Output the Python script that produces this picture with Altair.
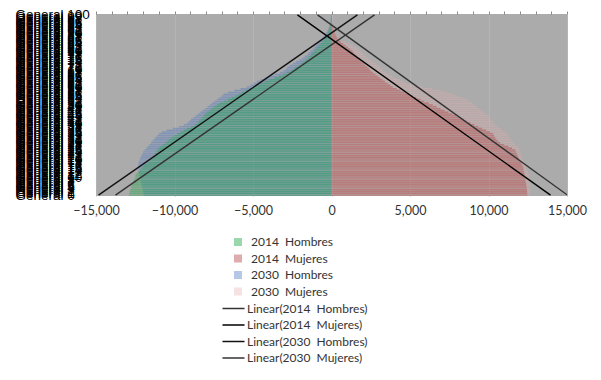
import altair as alt
import pandas as pd

ages = list(range(101))

# 2014 Hombres (absolute values, drawn to the left)
h2014 = [12900, 12880, 12850, 12800, 12780, 12750, 12700, 12650, 12600, 12560,
         12500, 12480, 12400, 12300, 12200, 12100, 12000, 11900, 11700, 11600,
         11500, 11400, 11300, 11250, 11200, 11100, 11000, 10900, 10750, 10600,
         10450, 10300, 10150, 10000, 9800, 9600, 9400, 9200, 8950, 8700,
         8550, 8450, 8340, 8250, 8150, 8050, 7900, 7750, 7650, 7500,
         7300, 7100, 6850, 6600, 6350, 6100, 5900, 5700, 5450, 5200,
         5000, 4750, 4520, 4250, 3950, 3650, 3350, 3100, 2850, 2600,
         2400, 2300, 2100, 1950, 1800, 1650, 1500, 1400, 1300, 1200,
         1100, 1000, 900, 800, 700, 600, 500, 420, 350, 300,
         250, 200, 160, 120, 100, 80, 60, 45, 35, 25, 20]

# 2014 Mujeres
m2014 = [12480, 12470, 12460, 12450, 12430, 12420, 12400, 12380, 12360, 12340,
         12320, 12300, 12280, 12260, 12240, 12220, 12180, 12120, 12060, 12000,
         11950, 11900, 11850, 11800, 11750, 11700, 11500, 11250, 11000, 10750,
         10600, 10500, 10420, 10350, 10300, 10100, 9850, 9600, 9350, 9100,
         8850, 8600, 8400, 8200, 7950, 7700, 7450, 7200, 6950, 6700,
         6450, 6200, 5900, 5670, 5400, 5150, 4900, 4650, 4400, 4150,
         3900, 3750, 3570, 3400, 3250, 3100, 2950, 2800, 2650, 2500,
         2400, 2290, 2150, 2050, 1900, 1800, 1700, 1600, 1500, 1400,
         1340, 1200, 1050, 900, 750, 600, 450, 380, 320, 260,
         210, 170, 130, 100, 80, 60, 45, 35, 25, 20, 15]

# 2030 Hombres
h2030 = [11950, 11980, 12000, 12020, 12050, 12080, 12100, 12120, 12150, 12170,
         12200, 12220, 12250, 12270, 12290, 12300, 12310, 12300, 12290, 12250,
         12200, 12150, 12100, 12050, 12000, 11900, 11800, 11700, 11600, 11500,
         11400, 11300, 11200, 11100, 11000, 10800, 10500, 10100, 9700, 9400,
         9200, 9050, 8950, 8800, 8650, 8500, 8350, 8200, 8050, 7900,
         7750, 7600, 7450, 7300, 7150, 7000, 6880, 6600, 6200, 5800,
         5400, 5150, 4970, 4750, 4500, 4200, 3900, 3600, 3300, 3050,
         2900, 2800, 2650, 2450, 2250, 2050, 1850, 1700, 1550, 1450,
         1340, 1200, 1100, 1000, 900, 800, 700, 600, 500, 420,
         350, 280, 220, 170, 130, 100, 80, 60, 45, 35, 25]

# 2030 Mujeres
m2030 = [12600, 12620, 12640, 12650, 12660, 12670, 12660, 12650, 12640, 12620,
         12600, 12580, 12550, 12520, 12500, 12450, 12400, 12350, 12300, 12250,
         12200, 12150, 12100, 12070, 12050, 12040, 11950, 11850, 11700, 11600,
         11500, 11400, 11300, 11250, 11200, 11050, 10900, 10750, 10600, 10450,
         10350, 10250, 10180, 10130, 10000, 9850, 9700, 9550, 9400, 9250,
         9100, 8950, 8800, 8660, 8400, 8050, 7700, 7390, 7000, 6400,
         5800, 5300, 4840, 4600, 4350, 4100, 3850, 3650, 3450, 3280,
         3200, 3120, 2950, 2800, 2650, 2500, 2350, 2200, 2050, 1950,
         1850, 1700, 1550, 1350, 1150, 900, 570, 450, 370, 300,
         240, 190, 150, 110, 85, 65, 50, 40, 30, 22, 15]

series_names = ["2014\u00a0 Hombres", "2014\u00a0 Mujeres", "2030\u00a0 Hombres", "2030\u00a0 Mujeres"]
series_values = [h2014, m2014, h2030, m2030]
series_sign = [-1, 1, -1, 1]
bar_colors = ["#1fa64a", "#b03a3a", "#4472c4", "#e6b0b0"]
bar_opacity = [0.45, 0.36, 0.3, 0.4]
draw_order = [2, 3, 0, 1]   # 2030 series drawn first, 2014 series on top

# Linear trend lines (value at age 0 and at age 100)
trend_names = ["Linear(2014\u00a0 Hombres)", "Linear(2014\u00a0 Mujeres)",
               "Linear(2030\u00a0 Hombres)", "Linear(2030\u00a0 Mujeres)"]
trend_age = [0, 100]
trend_at0 = [-13760, 13950, -14840, 15030]
trend_at100 = [2740, -2170, 1650, -890]
trend_colors = ["#333333", "#000000", "#111111", "#333333"]

x_ticks = [-15000, -10000, -5000, 0, 5000, 10000, 15000]
minor_ticks = list(range(-15000, 15001, 1000))

rows = []
for i in draw_order:
    for a, v in zip(ages, series_values[i]):
        rows.append({"series": series_names[i], "age": a, "value": series_sign[i] * v})
bars_df = pd.DataFrame(rows)

trows = []
for name, v0, v1 in zip(trend_names, trend_at0, trend_at100):
    trows.append({"trend": name, "age": trend_age[0], "value": v0})
    trows.append({"trend": name, "age": trend_age[1], "value": v1})
trend_df = pd.DataFrame(trows)

FONT = "Lato"
xscale = alt.Scale(domain=[-15000, 15000], nice=False, zero=False)
yscale = alt.Scale(domain=[-0.5, 100.5], nice=False, zero=False)

bars = alt.Chart(bars_df).transform_calculate(
    lo="datum.age - 0.4", hi="datum.age + 0.4", series_op="datum.series"
).mark_bar(clip=True).encode(
    x=alt.X("value:Q", scale=xscale, title=None,
            axis=alt.Axis(orient="bottom", values=x_ticks,
                          labelExpr="format(datum.value, ',')", ticks=False,
                          domain=False, labelFont=FONT, labelFontSize=12.5,
                          labelColor="#333333", labelPadding=8, labelFlush=False,
                          grid=True, gridColor="#b4b4b4", gridWidth=1)),
    x2=alt.datum(0),
    y=alt.Y("lo:Q", scale=yscale, title=None,
            axis=alt.Axis(values=ages, labelExpr="'General ' + datum.value",
                          labelAlign="left", labelPadding=81, tickSize=0, ticks=False,
                          domain=False, grid=False, labelOverlap=False,
                          labelFont="Liberation Sans", labelFontSize=13.5,
                          labelColor="#000000", labelFlush=False, labelBound=False)),
    y2="hi:Q",
    color=alt.Color("series:N", scale=alt.Scale(domain=series_names, range=bar_colors),
                    sort=series_names,
                    legend=alt.Legend(title=None, orient="none", legendX=136, legendY=222,
                                      symbolType="square", symbolSize=64, symbolOpacity=1,
                                      symbolStrokeWidth=0, labelFont=FONT, labelFontSize=12,
                                      labelColor="#333333", rowPadding=4.5, labelOffset=7)),
    opacity=alt.Opacity("series_op:N",
                        scale=alt.Scale(domain=series_names, range=bar_opacity),
                        legend=None),
)

lines = alt.Chart(trend_df).mark_line(clip=True, strokeWidth=1.4).encode(
    x=alt.X("value:Q", scale=xscale, title=None,
            axis=alt.Axis(orient="top", values=minor_ticks, labels=False, domain=False,
                          ticks=True, tickSize=3, tickColor="#8a8a8a", grid=False)),
    y=alt.Y("age:Q", scale=yscale, axis=None),
    color=alt.Color("trend:N", scale=alt.Scale(domain=trend_names, range=trend_colors),
                    sort=trend_names,
                    legend=alt.Legend(title=None, orient="none", legendX=129, legendY=286,
                                      symbolType="M-1.47,0H1.47", symbolSize=225,
                                      symbolStrokeWidth=1.5, labelFont=FONT,
                                      labelFontSize=12, labelColor="#333333",
                                      rowPadding=1.5, labelOffset=5)),
    detail="trend:N",
)

chart = alt.layer(bars, lines).resolve_scale(
    color="independent", opacity="independent"
).resolve_axis(
    x="independent", y="independent"
).properties(
    width=471, height=182,
    padding={"left": 88, "top": 6, "right": 26, "bottom": 176},
    autosize=alt.AutoSizeParams(type="none"),
    background="white",
).configure_view(
    fill="#ababab", stroke=None
)

chart.save("out.html", embed_options={"renderer": "svg", "actions": False})
